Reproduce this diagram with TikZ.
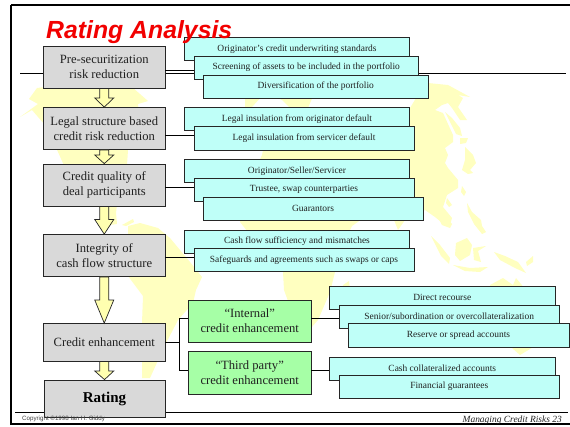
\documentclass[tikz,border=0pt]{standalone}
\usepackage{fontspec}
\setmainfont{Liberation Serif}
\newfontfamily\arialf{Liberation Sans}
\usetikzlibrary{calc}
\definecolor{mapy}{HTML}{FFFFC0}
\definecolor{arry}{HTML}{FFFFB0}
\definecolor{boxg}{HTML}{D9D9D9}
\definecolor{boxc}{HTML}{BFFFF8}
\definecolor{boxn}{HTML}{A6FFA6}
\definecolor{ink}{HTML}{202020}
\tikzset{
  x=1pt,y=-1pt,
  land/.style={fill=mapy,draw=none},
  abox/.style={draw=black!85,line width=.8pt,inner sep=0pt,align=center,text=ink},
  grayb/.style={abox,fill=boxg,font=\fontsize{12.6}{15}\selectfont},
  greenb/.style={abox,fill=boxn,font=\fontsize{12.6}{15}\selectfont},
  cyanb/.style={abox,fill=boxc,font=\fontsize{9.45}{11}\selectfont},
  conn/.style={draw=black,line width=.7pt},
  blockarrow/.style={draw=black!85,fill=arry,line width=.7pt,line join=miter},
  frameline/.style={draw=black,line width=2pt},
}
% style, name, x1, y1, x2, y2, text
\newcommand{\bx}[7]{%
  \pgfmathsetmacro{\bw}{#5-#3}\pgfmathsetmacro{\bh}{#6-#4}%
  \pgfmathsetmacro{\bcx}{(#5+#3)/2}\pgfmathsetmacro{\bcy}{(#6+#4)/2}%
  \node[#1,minimum width=\bw pt,minimum height=\bh pt] (#2) at (\bcx,\bcy) {#7};}
% from node, to node, y where the shaft ends
\newcommand{\barrow}[3]{%
  \coordinate (ps) at (#1.south); \coordinate (pe) at (#2.north);
  \draw[blockarrow] ($(ps)+(-4.5,0)$) -- ($(ps |- 0,#3)+(-4.5,0)$) -- ($(ps |- 0,#3)+(-9.5,0)$)
    -- (pe) -- ($(ps |- 0,#3)+(9.5,0)$) -- ($(ps |- 0,#3)+(4.5,0)$) -- ($(ps)+(4.5,0)$) -- cycle;}
\begin{document}
\begin{tikzpicture}
\useasboundingbox (0,0) rectangle (570,426);
\fill[white] (0,0) rectangle (570,426);
% --- map ---
% North America
\fill[land] (20,117) -- (38,104) -- (29,99) -- (37,88) -- (62,85) -- (100,85) -- (132,87) -- (148,101) -- (138,104) -- (140,125) -- (128,150) -- (127,165) -- (118,195) -- (116,213) -- (117,224) -- (110,225) -- (100,208) -- (75,190) -- (58,152) -- (45,125) -- (32,110) -- cycle;
\fill[land] (122,225) -- (133,219) -- (134,222) -- (126,226) -- cycle;
% South America
\fill[land] (128,226) -- (140,223) -- (158,228) -- (170,238) -- (190,262) -- (202,277) -- (196,290) -- (193,303) -- (178,320) -- (165,345) -- (150,378) -- (142,378) -- (142,323) -- (143,296) -- (128,276) -- cycle;
% Europe fragments
\fill[land] (245,96) -- (262,96) -- (252,107) -- (245,107) -- cycle;
\fill[land] (273,96) -- (313,96) -- (308,108) -- (290,108) -- (282,100) -- cycle;
% Eurasia and Africa
\fill[land] (300,108) -- (410,108) -- (416,98) -- (428,83) -- (448,85) -- (470,97) -- (458,95) -- (463,98) -- (458,107) -- (467,120) -- (460,120) -- (452,108) -- (448,103) -- (442,105) -- (435,110) -- (443,113) -- (453,135) -- (453,142) -- (445,148) -- (448,155) -- (445,163) -- (448,168) -- (458,180) -- (458,188) -- (447,195) -- (443,207) -- (452,218) -- (450,225) -- (445,225) -- (435,217) -- (425,210) -- (405,220) -- (398,230) -- (394,220) -- (375,210) -- (352,226) -- (345,240) -- (352,250) -- (335,272) -- (330,292) -- (318,320) -- (311,328) -- (295,320) -- (284,290) -- (283,272) -- (262,250) -- (240,222) -- (240,205) -- (262,155) -- (268,125) -- cycle;
% Madagascar
\fill[land] (343,285) -- (349,281) -- (350,290) -- (342,300) -- cycle;
% Australia
\fill[land] (490,285) -- (503,278) -- (513,285) -- (516,278) -- (530,295) -- (560,320) -- (558,348) -- (535,346) -- (520,355) -- (512,348) -- (490,340) -- cycle;
% Islands
\fill[land] (445,112) -- (452,118) -- (460,128) -- (462,136) -- (456,134) -- (450,122) -- cycle;
\fill[land] (460,138) -- (468,138) -- (466,143) -- (460,144) -- cycle;
\fill[land] (465,147) -- (473,155) -- (476,163) -- (470,170) -- (473,173) -- (468,174) -- (462,170) -- (465,160) -- cycle;
\fill[land] (462,186) -- (466,192) -- (464,196) -- (461,192) -- cycle;
\fill[land] (447,198) -- (452,205) -- (449,207) -- (446,203) -- cycle;
\fill[land] (467,203) -- (472,212) -- (481,220) -- (482,226) -- (486,232) -- (482,234) -- (474,224) -- (468,212) -- cycle;
\fill[land] (431,236) -- (440,245) -- (450,258) -- (449,264) -- (441,256) -- cycle;
\fill[land] (456,243) -- (467,238) -- (472,245) -- (470,255) -- (460,261) -- (455,255) -- cycle;
\fill[land] (473,248) -- (486,246) -- (478,251) -- (481,262) -- (474,260) -- cycle;
\fill[land] (453,265) -- (470,268) -- (488,267) -- (480,272) -- (465,271) -- cycle;
\fill[land] (494,252) -- (505,256) -- (518,262) -- (526,273) -- (515,268) -- (500,260) -- cycle;
\fill[land] (526,262) -- (533,256) -- (533,262) -- (527,266) -- cycle;
\fill[land] (435,212) -- (445,216) -- (452,224) -- (450,228) -- (442,225) -- cycle;
% --- slide frame ---
\draw[frameline] (11,5) -- (570,5);
\draw[frameline] (11,5) -- (11,424) -- (570,424);
\draw[draw=black,line width=.7pt] (15,412.5) -- (568,412.5);
\coordinate (ruleL) at (20,73.7);
\coordinate (ruleR) at (566,73.7);
\draw[draw=black,line width=1.5pt] (ruleL) -- (ruleR);
% --- left column boxes ---
\bx{grayb}{g1}{43.5}{46.5}{165}{88}{Pre-securitization\\risk reduction}
\bx{grayb}{g2}{43.5}{107.5}{165}{149.5}{Legal structure based\\credit risk reduction}
\bx{grayb}{g3}{43.5}{164}{165}{206}{Credit quality of\\deal participants}
\bx{grayb}{g4}{43.5}{234.5}{165}{276.5}{Integrity of\\cash flow structure}
\bx{grayb}{g5}{43.5}{323.5}{165}{361}{Credit enhancement}
\bx{abox,fill=boxg,font=\fontsize{15}{18}\selectfont\bfseries,text=black}{g6}{44}{380}{165}{417}{Rating}
\barrow{g1}{g2}{98}
\barrow{g2}{g3}{155}
\barrow{g3}{g4}{219.5}
\barrow{g4}{g5}{300}
\barrow{g5}{g6}{371}
% --- green boxes ---
\bx{greenb}{n1}{188.5}{300}{311}{342}{“Internal”\\credit enhancement}
\bx{greenb}{n2}{188.5}{351.5}{311}{394}{“Third party”\\credit enhancement}
% --- cyan boxes ---
\bx{cyanb}{c11}{184.5}{37.5}{409.5}{60.5}{Originator’s credit underwriting standards}
\bx{cyanb}{c12}{194}{56}{418.5}{79}{Screening of assets to be included in the portfolio}
\bx{cyanb}{c13}{203}{75}{428.5}{98}{Diversification of the portfolio}
\bx{cyanb}{c21}{184.5}{107.5}{409.5}{130.5}{Legal insulation from originator default}
\bx{cyanb}{c22}{194}{126.5}{414}{150}{Legal insulation from servicer default}
\bx{cyanb}{c31}{184.5}{159.5}{409.5}{182.5}{Originator/Seller/Servicer}
\bx{cyanb}{c32}{194}{178}{414}{201}{Trustee, swap counterparties}
\bx{cyanb}{c33}{203}{197}{423}{220}{Guarantors}
\bx{cyanb}{c41}{184.5}{230}{409.5}{253}{Cash flow sufficiency and mismatches}
\bx{cyanb}{c42}{194}{248.5}{414}{271.5}{Safeguards and agreements such as swaps or caps}
\bx{cyanb}{c51}{329.5}{286}{555}{309}{Direct recourse}
\bx{cyanb}{c52}{339}{305}{559.5}{328}{Senior/subordination or overcollateralization}
\bx{cyanb}{c53}{348}{323.5}{569}{347}{Reserve or spread accounts}
\bx{cyanb}{c61}{329.5}{357}{555}{380}{Cash collateralized accounts}
\bx{cyanb}{c62}{339}{375}{559.5}{398}{Financial guarantees}
% --- connectors ---
\coordinate (j1) at (165,70);
\coordinate (j2) at (165,135);
\coordinate (j3) at (165,187);
\coordinate (j4) at (165,257);
\coordinate (j5) at (179,342);
\draw[conn] (j1) -- (j1 -| c12.west);
\draw[conn] (j2) -- (j2 -| c22.west);
\draw[conn] (j3) -- (j3 -| c32.west);
\draw[conn] (j4) -- (j4 -| c42.west);
\draw[conn] (g5.east |- j5) -- (j5);
\coordinate (j6) at (179,318);
\coordinate (j7) at (179,370);
\draw[conn] (j6 -| n1.west) -- (j6) -- (j7) -- (j7 -| n2.west);
\draw[conn] (n1.east |- j6) -- (j6 -| c52.west);
\draw[conn] (n2.east |- j7) -- (j7 -| c61.west);
% --- texts ---
\node[anchor=base west,inner sep=0pt,text=red!95!black,font=\arialf\fontsize{24.8}{28}\selectfont\bfseries\itshape] (title) at (46,38.5) {Rating Analysis};
\node[anchor=base west,inner sep=0pt,text=black!75,font=\arialf\fontsize{6.2}{7}\selectfont] (copy) at (22,420) {Copyright ©1998 Ian H. Giddy};
\node[anchor=base east,inner sep=0pt,text=ink,font=\fontsize{9.45}{11}\selectfont\itshape] (foot) at (562,422) {Managing Credit Risks 23};
\end{tikzpicture}
\end{document}
